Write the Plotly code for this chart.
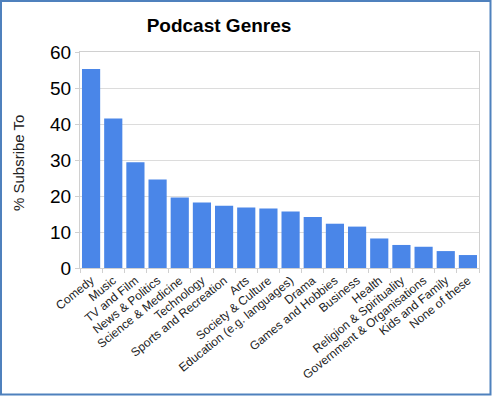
import plotly.graph_objects as go

genres = ["Comedy", "Music", "TV and Film", "News & Politics", "Science & Medicine",
          "Technology", "Sports and Recreation", "Arts", "Society & Culture",
          "Education (e.g. languages)", "Drama", "Games and Hobbies", "Business",
          "Health", "Religion & Spirituality", "Government & Organisations",
          "Kids and Family", "None of these"]
percent = [55.3, 41.5, 29.4, 24.6, 19.6, 18.2, 17.3, 16.8, 16.5, 15.7, 14.2, 12.3,
           11.5, 8.2, 6.4, 5.9, 4.7, 3.6]
y_ticks = [0, 10, 20, 30, 40, 50, 60]

W, H = 492, 396
L, R, T, B = 80, 13, 52, 128
pw, ph = W - L - R, H - T - B

fig = go.Figure(go.Bar(x=genres, y=percent, marker=dict(color="#4a86e8", line=dict(width=0))))

fig.update_layout(
    width=W, height=H,
    margin=dict(l=L, r=R, t=T, b=B, autoexpand=False),
    paper_bgcolor="white", plot_bgcolor="white",
    bargap=0.18,
    showlegend=False,
    font=dict(family="Liberation Sans, Arial, sans-serif", color="black"),
    title=dict(text="<b>Podcast Genres</b>", font=dict(size=19, color="black"),
               xref="paper", x=(219 - L) / pw, xanchor="center",
               yref="container", y=1 - 25 / H, yanchor="middle", automargin=False),
)
fig.update_xaxes(
    automargin=False,
    tickangle=-39, tickfont=dict(size=12, color="#222"),
    showline=True, linecolor="#d0d0d0", mirror=True,
    ticks="outside", tickson="boundaries", ticklen=4, tickcolor="#d0d0d0",
    showgrid=False,
)
fig.update_yaxes(
    automargin=False,
    range=[0, 60], tickvals=y_ticks, tickfont=dict(size=19, color="black"),
    showline=True, linecolor="#d0d0d0", mirror=True,
    showgrid=True, gridcolor="#dcdcdc", gridwidth=1,
    zeroline=False, ticks="outside", ticklen=4, tickcolor="#d0d0d0",
)
fig.add_annotation(text="% Subsribe To", xref="paper", yref="paper",
                   x=(18 - L) / pw, y=(H - B - 163) / ph, textangle=-90,
                   showarrow=False, font=dict(size=15, color="#222"),
                   xanchor="center", yanchor="middle")
fig.add_shape(type="rect", xref="paper", yref="paper",
              x0=(1 - L) / pw, x1=(490.5 - L) / pw,
              y0=(H - B - 394.5) / ph, y1=(H - B - 1) / ph,
              line=dict(color="#4f81bd", width=2), fillcolor="rgba(0,0,0,0)", layer="above")

fig.write_html("out.html", config={"displayModeBar": False},
               post_script="document.body.style.margin='0';document.body.style.overflow='hidden';")
